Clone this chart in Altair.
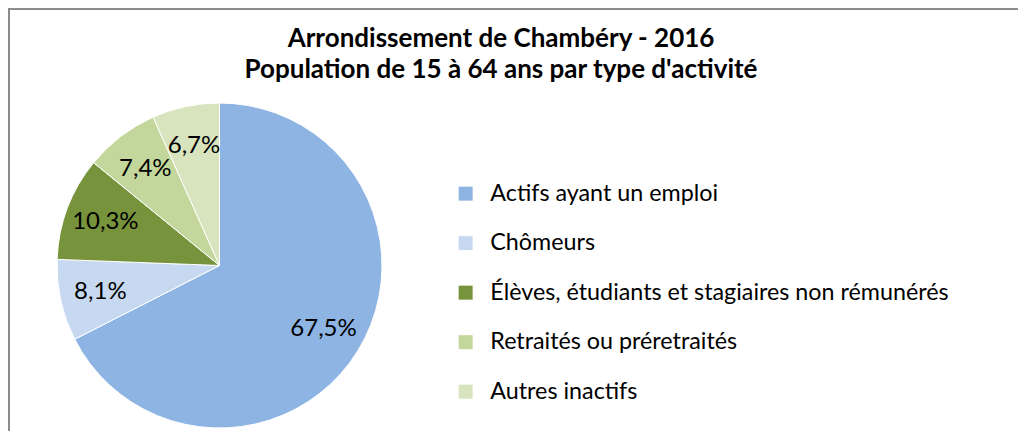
import altair as alt
import pandas as pd

categories = ["Actifs ayant un emploi", "Chômeurs",
              "Élèves, étudiants et stagiaires non rémunérés",
              "Retraités ou préretraités", "Autres inactifs"]
values = [67.5, 8.1, 10.3, 7.4, 6.7]
labels = ["67,5%", "8,1%", "10,3%", "7,4%", "6,7%"]
colors = ["#8EB4E3", "#C6D9F1", "#77933C", "#C3D69B", "#D7E4BD"]
title_lines = ["Arrondissement de Chambéry - 2016",
               "Population de 15 à 64 ans par type d'activité"]

FONT = "Lato"
W, H = 1010, 423
CX, CY, R = 211.5, 257.5, 162.5

df = pd.DataFrame({"cat": categories, "value": values, "label": labels,
                   "order": list(range(len(categories)))})

color = alt.Color("cat:N", sort=categories,
                  scale=alt.Scale(domain=categories, range=colors),
                  legend=alt.Legend(orient="none", legendX=446, legendY=174,
                                    title=None, symbolType="square",
                                    symbolSize=196, symbolStrokeWidth=0,
                                    labelFont=FONT, labelFontSize=23.3,
                                    labelColor="#000000", rowPadding=25.5,
                                    labelOffset=13, padding=0, labelLimit=700))

base = alt.Chart(df).encode(
    theta=alt.Theta("value:Q", stack=True),
    order=alt.Order("order:Q"),
)

pie = base.mark_arc(radius=R, stroke="white", strokeWidth=1).encode(
    color=color, x=alt.value(CX), y=alt.value(CY))

text = base.mark_text(radius=122, font=FONT, fontSize=24, color="#000000").encode(
    text="label:N", x=alt.value(CX), y=alt.value(CY))

tdf = pd.DataFrame({"t": title_lines, "y": [39, 70]})
title = alt.Chart(tdf).mark_text(font=FONT, fontSize=26, fontWeight="bold",
                                 color="#000000", baseline="alphabetic").encode(
    text="t:N", x=alt.value(493),
    y=alt.Y("y:Q", scale=alt.Scale(domain=[0, H], range=[0, H]), axis=None))

border_top = alt.Chart(pd.DataFrame({"a": [0]})).mark_rule(
    color="#8c8c8c", strokeWidth=2).encode(
    x=alt.value(1), x2=alt.value(W + 20), y=alt.value(1))
border_left = alt.Chart(pd.DataFrame({"a": [0]})).mark_rule(
    color="#8c8c8c", strokeWidth=2).encode(
    x=alt.value(1), y=alt.value(0), y2=alt.value(H + 20))

chart = alt.layer(pie, text, title, border_top, border_left).properties(
    width=W, height=H,
    autosize=alt.AutoSizeParams(type="none"),
    padding=0,
).configure_view(stroke=None).resolve_scale(y="independent")

chart.save("out.html", embed_options={"renderer": "svg", "actions": False})
